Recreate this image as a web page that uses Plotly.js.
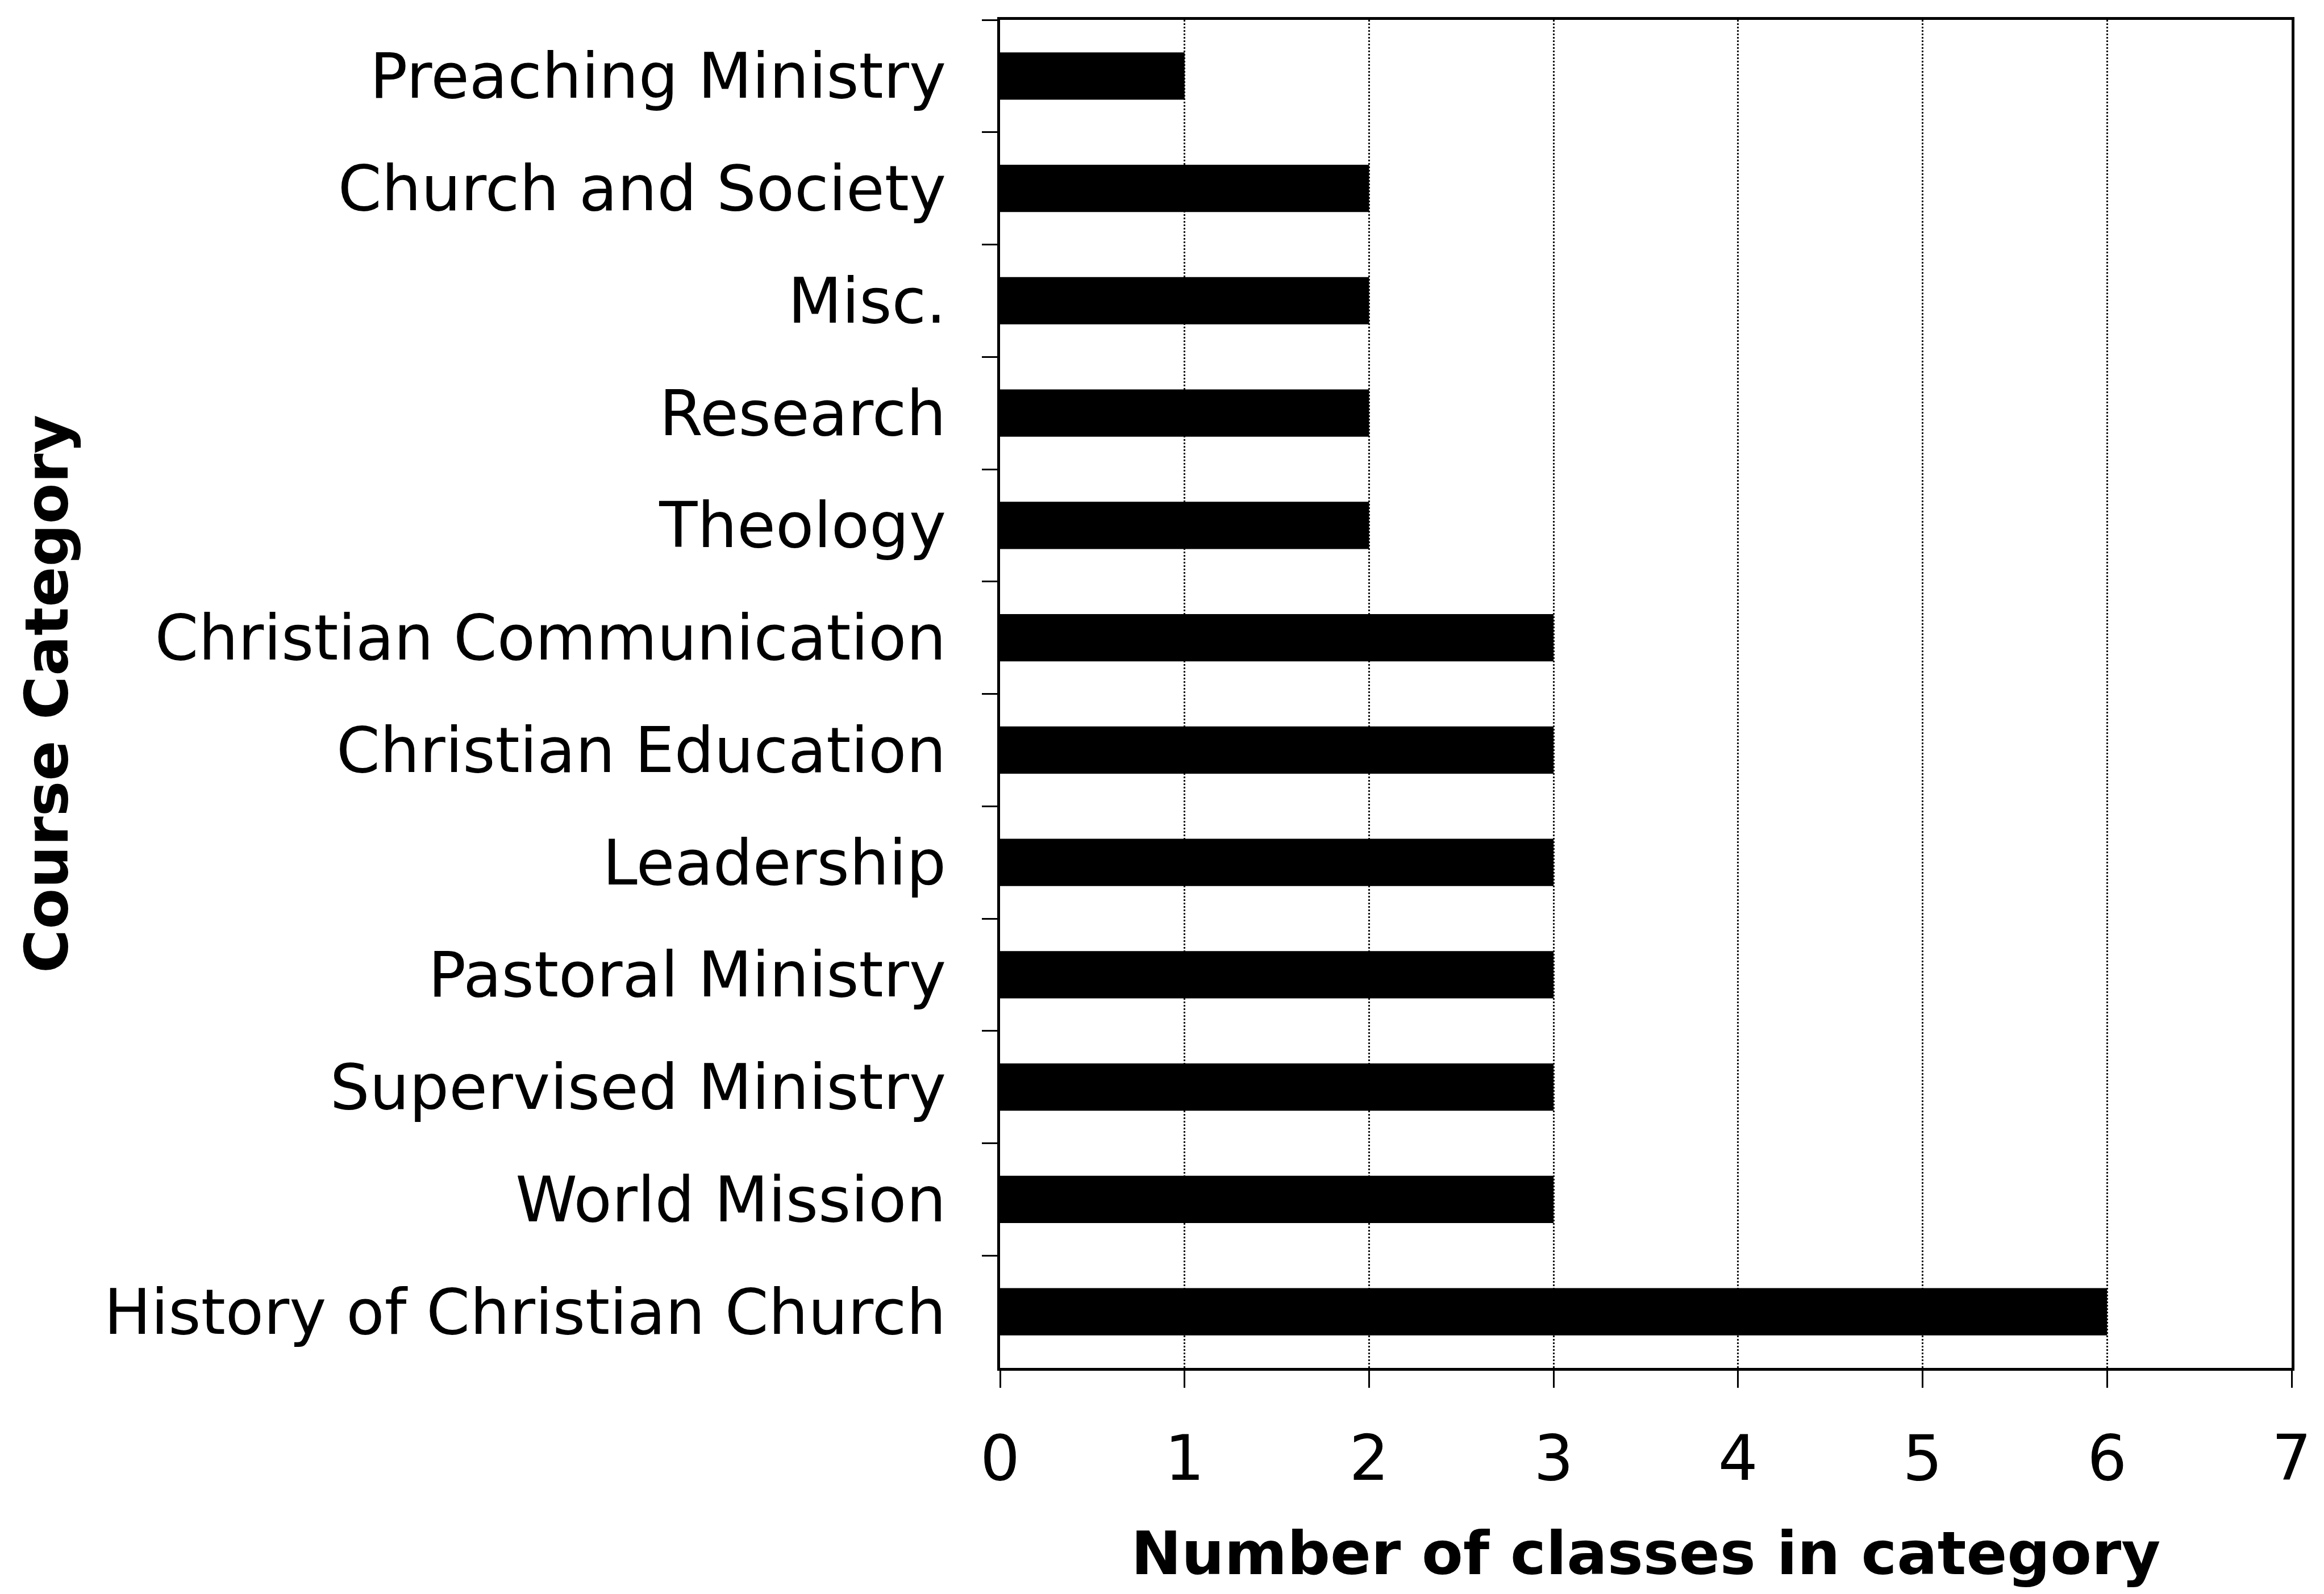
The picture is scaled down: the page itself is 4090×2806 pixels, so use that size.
<!DOCTYPE html>
<html>
<head>
<meta charset="utf-8">
<script src="https://cdn.plot.ly/plotly-3.0.1.min.js"></script>
<style>html,body{margin:0;padding:0;background:#fff;}#chart{width:4090px;height:2806px;}</style>
</head>
<body>
<div id="chart"></div>
<script>
// Categories listed top to bottom as in the reference
const categories = [
  "Preaching Ministry",
  "Church and Society",
  "Misc.",
  "Research",
  "Theology",
  "Christian Communication",
  "Christian Education",
  "Leadership",
  "Pastoral Ministry",
  "Supervised Ministry",
  "World Mission",
  "History of Christian Church"
];
const classCounts = [1, 2, 2, 2, 2, 3, 3, 3, 3, 3, 3, 6];
const xTickValues = [0, 1, 2, 3, 4, 5, 6, 7];
const xTitle = "Number of classes in category";
const yTitle = "Course Category";

const trace = {
  type: "bar",
  orientation: "h",
  x: classCounts,
  y: categories,
  marker: {color: "#000000", line: {width: 0}},
  hoverinfo: "x+y"
};

const font = "DejaVu Sans, Verdana, sans-serif";

const layout = {
  width: 4090,
  height: 2806,
  paper_bgcolor: "#ffffff",
  plot_bgcolor: "#ffffff",
  margin: {l: 1760, r: 57, t: 35, b: 398},
  bargap: 0.58,
  showlegend: false,
  font: {family: font, color: "#000000"},
  xaxis: {
    range: [0, 7],
    tickvals: xTickValues,
    ticktext: xTickValues.map(String),
    tickfont: {family: font, size: 110, color: "#000000"},
    ticks: "outside",
    ticklen: 30,
    tickwidth: 3,
    tickcolor: "#000000",
    ticklabelstandoff: 30,
    showgrid: true,
    gridcolor: "#111111",
    gridwidth: 3,
    griddash: "dot",
    zeroline: false,
    showline: true,
    linecolor: "#000000",
    linewidth: 5,
    mirror: true,
    title: {text: xTitle, font: {family: font, size: 106, color: "#000000", weight: "bold"}, standoff: 68}
  },
  yaxis: {
    type: "category",
    autorange: "reversed",
    tickson: "boundaries",
    ticks: "outside",
    ticklen: 27,
    tickwidth: 3,
    tickcolor: "#000000",
    ticklabelstandoff: 68,
    tickfont: {family: font, size: 110, color: "#000000"},
    showgrid: false,
    zeroline: false,
    showline: true,
    linecolor: "#000000",
    linewidth: 5,
    mirror: true,
    automargin: false,
    title: {text: yTitle, font: {family: font, size: 105, color: "#000000", weight: "bold"}, standoff: 30}
  }
};

Plotly.newPlot("chart", [trace], layout, {staticPlot: true, displayModeBar: false});
</script>
</body>
</html>
